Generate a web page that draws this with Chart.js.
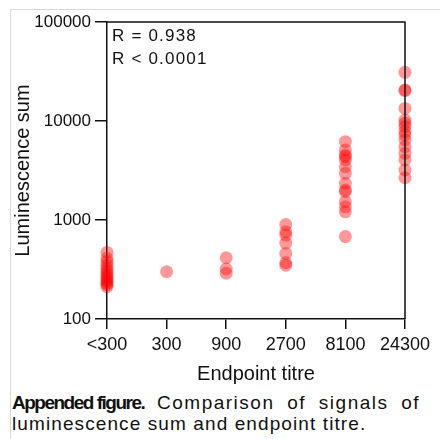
<!DOCTYPE html>
<html>
<head>
<meta charset="utf-8">
<script src="https://cdn.jsdelivr.net/npm/chart.js@4/dist/chart.umd.min.js"></script>
<style>
  html, body { margin: 0; padding: 0; background: #fff; }
  #wrap { position: relative; width: 440px; height: 439px; overflow: hidden; }
  #frame { position: absolute; left: 10px; top: 9px; width: 460px; height: 460px;
           border-left: 1px solid #d9d9d9; border-top: 1px solid #d9d9d9; }
  #chartBox { position: absolute; left: 0; top: 0; width: 440px; height: 390px; }
  #caption { position: absolute; left: 12px; top: 392px; width: 430px;
             font-family: Arial, "Liberation Sans", sans-serif; font-size: 19px;
             line-height: 21px; color: #111; white-space: nowrap; }
  #caption .l1 { letter-spacing: 1.5px; word-spacing: 6px; }
  #caption .l2 { letter-spacing: 1.1px; }
  #caption b { letter-spacing: -1.5px; word-spacing: 0; }
</style>
</head>
<body>
<div id="wrap">
  <div id="frame"></div>
  <div id="chartBox"><canvas id="titreChart" width="440" height="390"></canvas></div>
  <div id="caption">
    <div class="l1"><b>Appended figure.</b> Comparison of signals of</div>
    <div class="l2">luminescence sum and endpoint titre.</div>
  </div>
</div>
<script>
// endpoint titre groups (x categories)
const categories = ['<300', '300', '900', '2700', '8100', '24300'];

// luminescence sums per titre group
const lumBelow300 = [470, 410, 380, 350, 325, 305, 290, 275, 262, 250, 240, 230, 222, 212];
const lum300 = [300];
const lum900 = [415, 320, 290];
const lum2700 = [900, 760, 705, 585, 460, 370, 350];
const lum8100 = [6180, 5100, 4530, 4360, 4040, 3450, 2960, 2350, 2010, 1930, 1530, 1360, 1210, 680];
const lum24300 = [31000, 20600, 20300, 13400, 10240, 9480, 8760, 7800, 7230, 6430, 5500, 4720, 4040, 3200, 2670];

const yTicks = [100, 1000, 10000, 100000];
const statsLines = ['R = 0.938', 'R < 0.0001'];

const groups = [lumBelow300, lum300, lum900, lum2700, lum8100, lum24300];
const points = [];
groups.forEach((vals, i) => {
  vals.forEach(v => points.push({ x: i, y: v }));
});

// box around plot area + stats text
const framePlugin = {
  id: 'framePlugin',
  afterDatasetsDraw(chart) {
    const { ctx, chartArea } = chart;
    ctx.save();
    ctx.strokeStyle = '#111';
    ctx.lineWidth = 1.5;
    ctx.beginPath();
    ctx.moveTo(chartArea.left, chartArea.top);
    ctx.lineTo(chartArea.right, chartArea.top);
    ctx.lineTo(chartArea.right, chartArea.bottom);
    ctx.stroke();
    ctx.fillStyle = '#111';
    ctx.font = '17px Arial, "Liberation Sans", sans-serif';
    ctx.letterSpacing = '1.2px';
    ctx.textBaseline = 'middle';
    statsLines.forEach((t, i) => {
      ctx.fillText(t, chartArea.left + 5, chartArea.top + 14 + i * 23);
    });
    ctx.restore();
  }
};

window.addEventListener('load', () => {
  const ctx = document.getElementById('titreChart').getContext('2d');
  new Chart(ctx, {
    type: 'scatter',
    data: {
      datasets: [{
        label: 'Luminescence sum',
        data: points,
        backgroundColor: 'rgba(255, 0, 0, 0.4)',
        borderWidth: 0,
        pointRadius: 6.5,
        pointHoverRadius: 6.5,
        clip: false
      }]
    },
    options: {
      responsive: false,
      animation: false,
      layout: { padding: { left: 7, top: 22, right: 35, bottom: 0 } },
      plugins: {
        legend: { display: false },
        tooltip: { enabled: false }
      },
      scales: {
        x: {
          type: 'linear',
          min: 0,
          max: categories.length - 1,
          afterFit: (scale) => { scale.height = 71; },
          ticks: {
            stepSize: 1,
            color: '#111',
            padding: 5,
            font: { family: 'Arial', size: 18 },
            callback: (v) => categories[v]
          },
          grid: { drawOnChartArea: false, tickLength: 10, color: '#111', lineWidth: 1.5 },
          border: { color: '#111', width: 1.5 },
          title: {
            display: true,
            text: 'Endpoint titre',
            color: '#111',
            font: { family: 'Arial', size: 20 }
          }
        },
        y: {
          type: 'logarithmic',
          min: yTicks[0],
          max: yTicks[yTicks.length - 1],
          afterFit: (scale) => { scale.width = 100; },
          afterBuildTicks: (scale) => { scale.ticks = yTicks.map(v => ({ value: v })); },
          ticks: {
            color: '#111',
            padding: 4,
            font: { family: 'Arial', size: 17 },
            callback: (v) => String(v)
          },
          grid: { drawOnChartArea: false, tickLength: 12, color: '#111', lineWidth: 1.5 },
          border: { color: '#111', width: 1.5 },
          title: {
            display: true,
            text: 'Luminescence sum',
            color: '#111',
            font: { family: 'Arial', size: 20 }
          }
        }
      }
    },
    plugins: [framePlugin]
  });
});
</script>
</body>
</html>
